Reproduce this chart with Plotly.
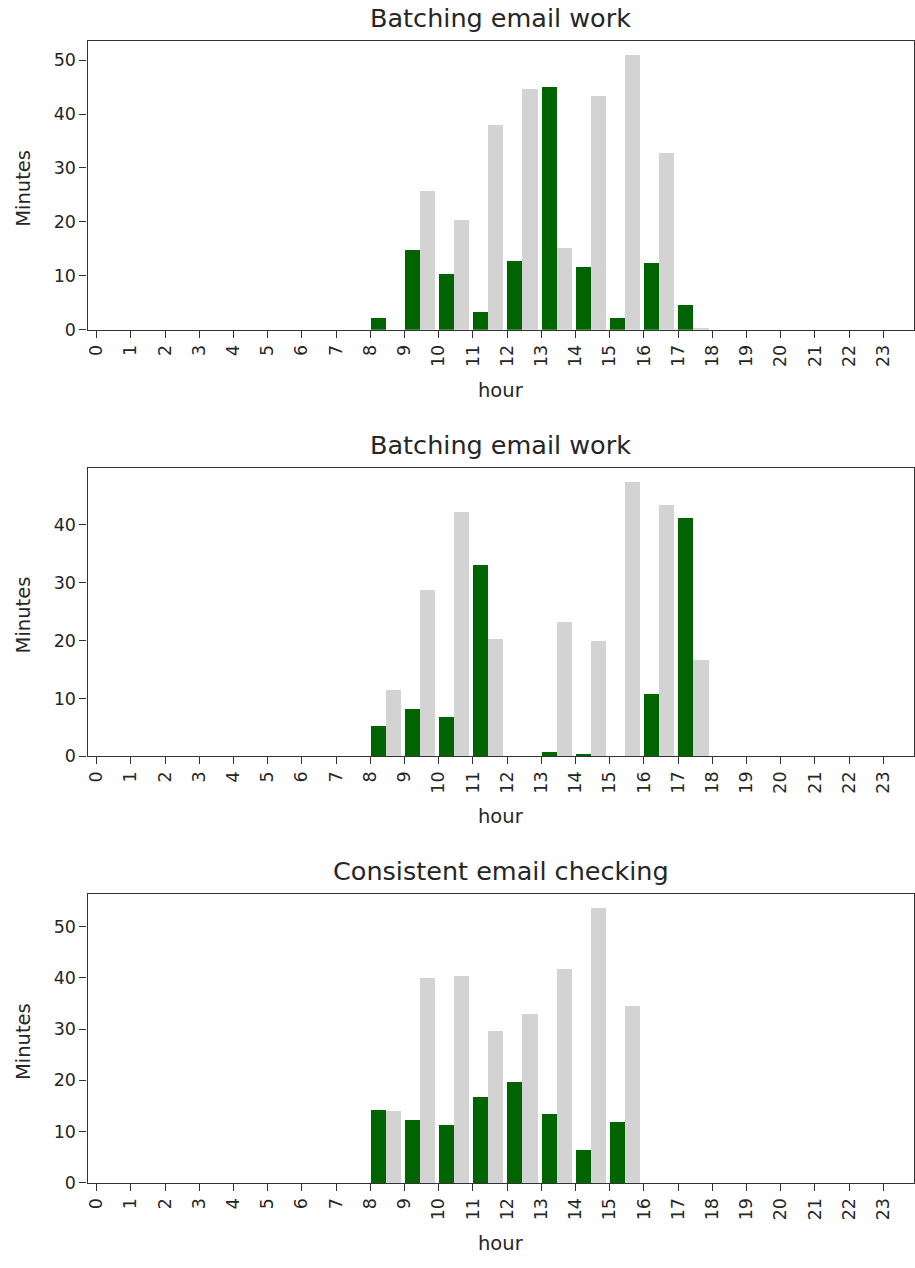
import plotly.graph_objects as go

# Hours of the day shown on every panel
hours = list(range(24))
hour_labels = [str(h) for h in hours]

panel_titles = ["Batching email work", "Batching email work", "Consistent email checking"]

# Minutes per hour, dark (primary) and light (secondary) series for each panel
primary_1 = [0, 0, 0, 0, 0, 0, 0, 0, 2.1, 14.7, 10.4, 3.3, 12.7, 45.0, 11.6, 2.1, 12.4, 4.5, 0, 0, 0, 0, 0, 0]
secondary_1 = [0, 0, 0, 0, 0, 0, 0, 0, 0, 25.7, 20.3, 37.9, 44.7, 15.1, 43.4, 51.0, 32.8, 0.4, 0, 0, 0, 0, 0, 0]

primary_2 = [0, 0, 0, 0, 0, 0, 0, 0, 5.3, 8.3, 6.8, 33.2, 0, 0.9, 0.5, 0, 10.8, 41.3, 0, 0, 0, 0, 0, 0]
secondary_2 = [0, 0, 0, 0, 0, 0, 0, 0, 11.6, 28.8, 42.3, 20.4, 0, 23.3, 20.0, 47.5, 43.4, 16.7, 0, 0, 0, 0, 0, 0]

primary_3 = [0, 0, 0, 0, 0, 0, 0, 0, 14.2, 12.2, 11.3, 16.8, 19.7, 13.4, 6.4, 11.8, 0, 0, 0, 0, 0, 0, 0, 0]
secondary_3 = [0, 0, 0, 0, 0, 0, 0, 0, 13.9, 39.9, 40.3, 29.6, 32.9, 41.6, 53.6, 34.5, 0, 0, 0, 0, 0, 0, 0, 0]

panels = [(primary_1, secondary_1), (primary_2, secondary_2), (primary_3, secondary_3)]

W, H = 915, 1268
BAR_W = 0.44
DARK = "#006400"
LIGHT = "#d3d3d3"
INK = "#262626"
FONT = "DejaVu Sans"

# pixel boxes of each plot area (top, bottom)
left_px, right_px = 86.7, 913.5
rows_px = [(41.3, 332.3), (471.3, 762.3), (901.3, 1192.3)]

fig = go.Figure()
annotations = []

for i, ((prim, sec), (top, bot)) in enumerate(zip(panels, rows_px)):
    n = "" if i == 0 else str(i + 1)
    xa, ya = "x" + n, "y" + n
    fig.add_trace(go.Bar(x=hours, y=prim, width=BAR_W, offset=0, marker=dict(color=DARK, line=dict(width=0)),
                         xaxis=xa, yaxis=ya, showlegend=False))
    fig.add_trace(go.Bar(x=hours, y=sec, width=BAR_W, offset=BAR_W, marker=dict(color=LIGHT, line=dict(width=0)),
                         xaxis=xa, yaxis=ya, showlegend=False))

    ymax = max(max(prim), max(sec)) * 1.05
    dom_y = [1 - bot / H, 1 - top / H]
    axis_common = dict(showline=True, linecolor="#333333", linewidth=1.3, mirror=True,
                       ticks="outside", ticklen=7, tickwidth=1.3, tickcolor="#333333",
                       showgrid=False, zeroline=False,
                       tickfont=dict(family=FONT, size=17.5, color=INK))
    fig.layout["xaxis" + n] = dict(domain=[left_px / W, right_px / W], anchor=ya,
                                   range=[-0.263, 23.885], tickmode="array", tickvals=hours,
                                   ticktext=hour_labels, tickangle=-90, **axis_common)
    fig.layout["yaxis" + n] = dict(domain=dom_y, anchor=xa, range=[0, ymax], dtick=10, **axis_common)

    cx = (left_px + right_px) / 2 / W
    annotations.append(dict(text=panel_titles[i], x=cx, y=1 - (top - 23) / H, xref="paper", yref="paper",
                            xanchor="center", yanchor="middle", showarrow=False,
                            font=dict(family=FONT, size=25.5, color=INK)))
    annotations.append(dict(text="hour", x=cx, y=1 - (bot + 61) / H, xref="paper", yref="paper",
                            xanchor="center", yanchor="middle", showarrow=False,
                            font=dict(family=FONT, size=19.5, color=INK)))
    annotations.append(dict(text="Minutes", x=22.5 / W, y=1 - ((top + bot) / 2 + 3) / H, xref="paper", yref="paper",
                            xanchor="center", yanchor="middle", textangle=-90, showarrow=False,
                            font=dict(family=FONT, size=19.5, color=INK)))

fig.update_layout(width=W, height=H, margin=dict(l=0, r=0, t=0, b=0),
                  paper_bgcolor="white", plot_bgcolor="white",
                  barmode="overlay", bargap=0, annotations=annotations)

fig.write_html("out.html")
